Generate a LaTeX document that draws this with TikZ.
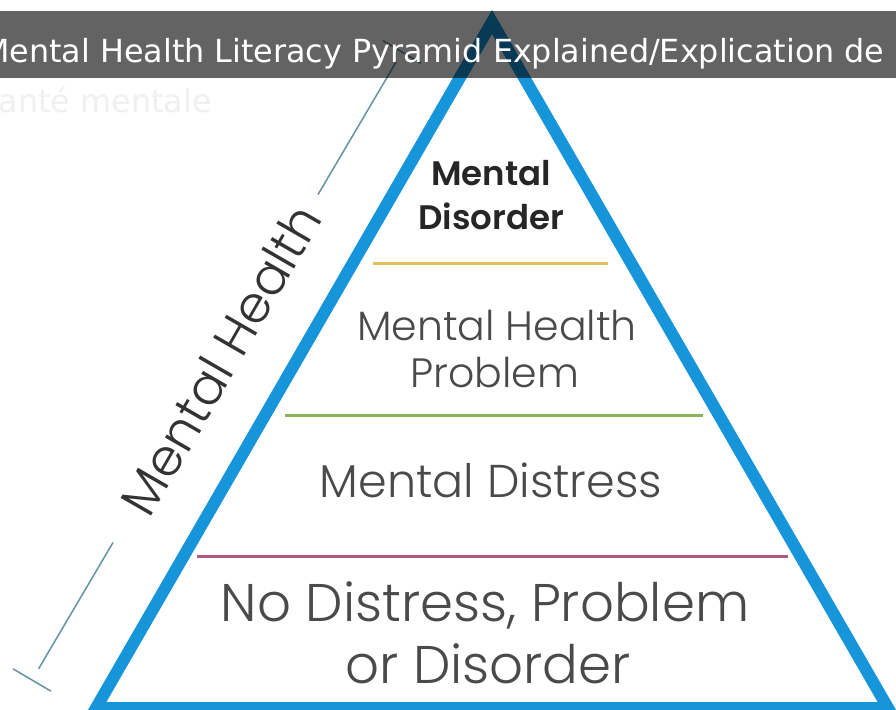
\documentclass[tikz,border=0pt]{standalone}
\usepackage{fontspec}
\usepackage{xcolor}
\usepackage{tikz}
\usetikzlibrary{calc}
\newfontfamily\titlefont{DejaVu Sans}
\newfontfamily\pyrfont{Poppins}[UprightFont = * Light, BoldFont = * SemiBold]
\definecolor{pyramid blue}{HTML}{1795DB}
\definecolor{level yellow}{HTML}{E3C25E}
\definecolor{level green}{HTML}{8DB25C}
\definecolor{level pink}{HTML}{B25A7E}
\definecolor{dim slate}{HTML}{6493A6}
\definecolor{layer gray}{HTML}{4A4A4A}
\tikzset{
pyramid/.style = { draw = pyramid blue, line width = 12pt, line join = miter },
divider/.style = { line width = 3pt },
dimension/.style = { draw = dim slate, line width = 1.5pt },
layer text/.style = { text = layer gray, inner sep = 0pt, anchor = base },
top text/.style = { text = black!85, inner sep = 0pt, anchor = base, font = \pyrfont\bfseries\fontsize{34}{40}\selectfont },
title text/.style = { inner sep = 0pt, anchor = base west, font = \titlefont\fontsize{31.8}{36}\selectfont },
}

\begin{document}
\begin{tikzpicture}[x = 1pt, y = -1pt]
    \useasboundingbox (0, 0) rectangle (896, 709);
    \clip (0, 0) rectangle (896, 709);
    \fill[white] (0, 0) rectangle (896, 709);
    % side measure
    \coordinate (dim low) at (32, 680);
    \coordinate (dim high) at (402, 52);
    \draw[dimension] ($(dim low)!0.018!(dim high)$) -- ($(dim low)!0.219!(dim high)$);
    \draw[dimension] ($(dim low)!0.773!(dim high)$) -- ($(dim low)!0.985!(dim high)$);
    \draw[dimension] ($(dim low)!22pt!90:(dim high)$) -- ($(dim low)!22pt!-90:(dim high)$);
    \draw[dimension] ($(dim high)!22pt!90:(dim low)$) -- ($(dim high)!22pt!-90:(dim low)$);
    \node[text = black!80, inner sep = 0pt, rotate = 60, font = \pyrfont\fontsize{51}{54}\selectfont] (side label) at ($(dim low)!0.51!(dim high)$) {Mental Health};
    % pyramid
    \coordinate (apex) at (492, 22);
    \coordinate (base left) at (96, 708);
    \coordinate (base right) at (888, 708);
    \draw[pyramid] (apex) -- (base right) -- (base left) -- cycle;
    \draw[divider, draw = level yellow] (373, 263) -- (608, 263);
    \draw[divider, draw = level green] (285, 415) -- (703, 415);
    \draw[divider, draw = level pink] (197, 556) -- (788, 556);
    % levels
    \node[top text] (disorder a) at (491, 185) {Mental};
    \node[top text] (disorder b) at (491, 229) {Disorder};
    \node[layer text, font = \pyrfont\fontsize{41}{46}\selectfont] (problem a) at (497, 340) {Mental Health};
    \node[layer text, font = \pyrfont\fontsize{41}{46}\selectfont] (problem b) at (495, 387) {Problem};
    \node[layer text, font = \pyrfont\fontsize{46}{50}\selectfont] (distress) at (491, 497) {Mental Distress};
    \node[layer text, font = \pyrfont\fontsize{53}{60}\selectfont] (none a) at (485, 621) {No Distress, Problem};
    \node[layer text, font = \pyrfont\fontsize{53}{60}\selectfont] (none b) at (488, 683) {or Disorder};
    % caption bar
    \fill[black, opacity = 0.61] (0, 11) rectangle (896, 78);
    \node[title text, text = white] (title) at (-18, 63) {Mental Health Literacy Pyramid Explained/Explication de};
    \node[title text, text = black!6] (subtitle) at (-18, 112) {santé mentale};
\end{tikzpicture}
\end{document}
